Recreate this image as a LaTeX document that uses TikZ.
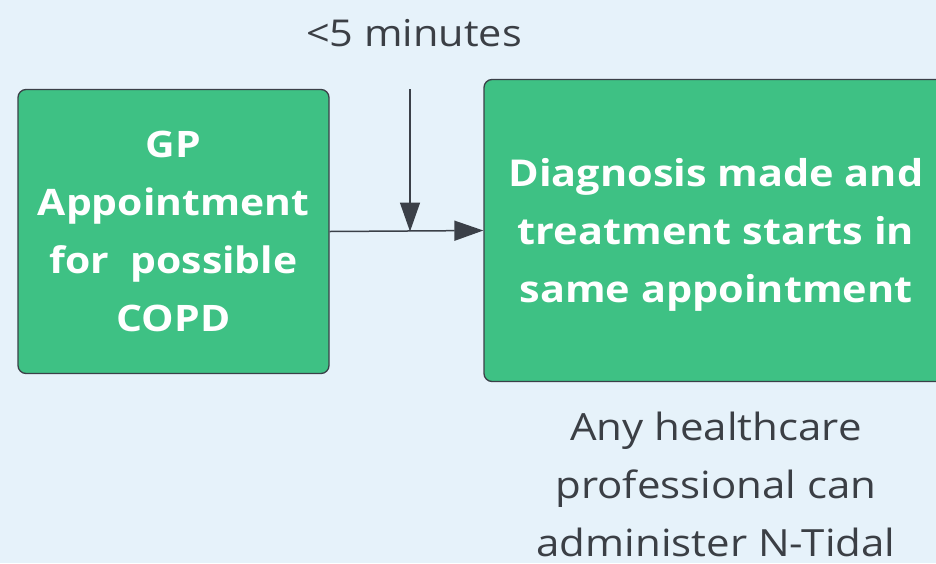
\documentclass[tikz,border=0pt]{standalone}
\usepackage{fontspec}
\setmainfont{Open Sans}[FakeStretch=1.12]
\usetikzlibrary{arrows.meta}
\definecolor{bg}{HTML}{E6F2FA}
\definecolor{boxgreen}{HTML}{3EC184}
\definecolor{edge}{HTML}{3B4048}
\definecolor{txt}{HTML}{3B3F45}
\tikzset{
  greenbox/.style={draw=edge, line width=1.3pt, fill=boxgreen, rounded corners=8pt,
    text=white, align=center, font=\bfseries\fontsize{36.5}{58}\selectfont,
    inner sep=0pt, text depth=0pt},
  conn/.style={draw=edge, line width=1.5pt, -{Triangle[length=29pt,width=20pt]}},
  note/.style={text=txt, align=center, inner sep=0pt}
}
\begin{document}
\begin{tikzpicture}[x=1pt,y=-1pt]
\fill[bg] (0,0) rectangle (936,563);
\clip (0,0) rectangle (936,563);
\useasboundingbox (0,0) rectangle (936,563);
\node[greenbox, minimum width=311pt, minimum height=284pt] (gp) at (173.5,231.5)
  {GP\\Appointment\\for\ \ possible\\COPD};
\node[greenbox, minimum width=464pt, minimum height=302pt, font=\bfseries\fontsize{37}{58}\selectfont] (dx) at (716,230.5)
  {Diagnosis made and\\treatment starts in\\same appointment};
\node[note, font=\fontsize{37}{40}\selectfont] (time) at (414,33) {<5 minutes};
\node[note, anchor=north, font=\fontsize{37.5}{58}\selectfont] (who) at (716,412)
  {Any healthcare\\professional can\\administer N-Tidal};
\coordinate (top) at (410,89);
\coordinate (j) at (top |- gp.east);
\draw[conn] (gp.east) -- (dx.west);
\draw[conn] (top) -- (j);
\end{tikzpicture}
\end{document}
